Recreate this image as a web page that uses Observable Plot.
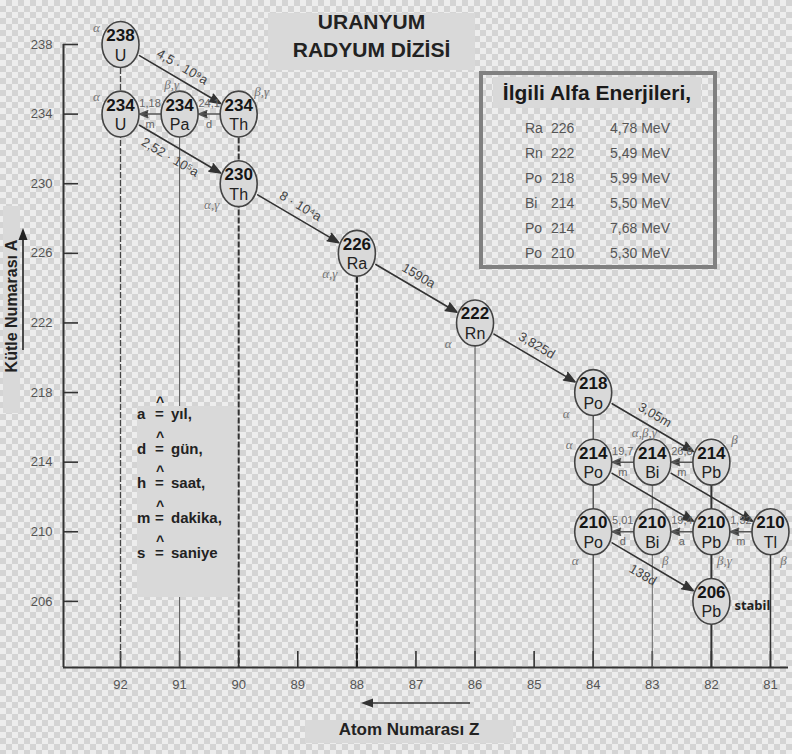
<!DOCTYPE html>
<html>
<head>
<meta charset="utf-8">
<script src="https://cdn.jsdelivr.net/npm/d3@7"></script>
<script src="https://cdn.jsdelivr.net/npm/@observablehq/plot@0.6"></script>
<style>
  body { margin: 0; }
  #wrap {
    position: relative; width: 792px; height: 754px; overflow: hidden;
    background-color: #ededed;
    background-image:
      linear-gradient(45deg, #d4d4d4 25%, transparent 25%, transparent 75%, #d4d4d4 75%),
      linear-gradient(45deg, #d4d4d4 25%, transparent 25%, transparent 75%, #d4d4d4 75%);
    background-size: 12px 12px;
    background-position: 0 0, 6px 6px;
    font-family: "Liberation Sans", Arial, sans-serif;
  }
  #wrap > svg { position: absolute; left: 0; top: 0; }
  .ov { position: absolute; }
  .gbox { position: absolute; background: #d9d9d9; }
  .title { position: absolute; left: 268px; top: 8px; width: 207px; text-align: center;
           font-weight: bold; font-size: 21px; line-height: 27.5px; color: #222; }
  .abox { position: absolute; left: 479px; top: 71px; width: 238px; height: 198px;
          border: 4px solid #808080; box-sizing: border-box; }
  .ahead { position: absolute; left: 493px; top: 77px; width: 208px; height: 31px; background: #d9d9d9;
           font-weight: bold; font-size: 21px; line-height: 31px; text-align: center; color: #1a1a1a; }
  .arow { position: absolute; font-size: 14px; color: #555; line-height: 16px; white-space: nowrap; }
  .u { position: absolute; left: 137px; font-weight: bold; font-size: 15px; line-height: 18px; color: #222; white-space: nowrap; }
  .u .eq { position: absolute; left: 18px; }
  .u .eq::before { content: "^"; position: absolute; left: 1px; top: -12px; font-size: 14px; }
  .u .val { position: absolute; left: 34px; }
  .ylab { position: absolute; left: 11.5px; top: 306px; transform: translate(-50%, -50%) rotate(-90deg);
          font-weight: bold; font-size: 16px; color: #222; white-space: nowrap; }
  .xlab { position: absolute; left: 305px; top: 720px; width: 208px; height: 23px; background: #d9d9d9;
          text-align: center; font-weight: bold; font-size: 17px; line-height: 20px; color: #222; }
</style>
</head>
<body>
<div id="wrap"></div>
<script>
// ---------------- data ----------------
const isotopes      = ["238U","234Th","234Pa","234U","230Th","226Ra","222Rn","218Po","214Pb","214Bi","214Po","210Tl","210Pb","210Bi","210Po","206Pb"];
const massNumbers   = [238, 234, 234, 234, 230, 226, 222, 218, 214, 214, 214, 210, 210, 210, 210, 206];
const symbols       = ["U","Th","Pa","U","Th","Ra","Rn","Po","Pb","Bi","Po","Tl","Pb","Bi","Po","Pb"];
const atomicNumbers = [92, 90, 91, 92, 90, 88, 86, 84, 82, 83, 84, 81, 82, 83, 84, 82];

const decayFrom      = ["238U","234Th","234Pa","234U","230Th","226Ra","222Rn","218Po","214Pb","214Bi","214Po","214Bi","210Tl","210Pb","210Bi","210Po"];
const decayTo        = ["234Th","234Pa","234U","230Th","226Ra","222Rn","218Po","214Pb","214Bi","214Po","210Pb","210Tl","210Pb","210Bi","210Po","206Pb"];
const halfLifeValue  = ["4,5 · 10⁹","24,1","1,18","2,52 · 10⁵","8 · 10⁴","1590","3,825","3,05","26,8","19,7","","","1,32","19,4","5,01","138"];
const halfLifeUnit   = ["a","d","m","a","a","a","d","m","m","m","","","m","a","d","d"];

const modeIsotopes = ["238U","234U","234Pa","234Th","230Th","226Ra","222Rn","218Po","214Po","214Bi","214Pb","210Po","210Bi","210Pb","210Tl"];
const modeTexts    = ["α","α","β,γ","β,γ","α,γ","α,γ","α","α","α","α,β,γ","β","α","β","β,γ","β"];

const stableIsotope = "206Pb";
const stableLabel = "stabil";

const xTicks = [92, 91, 90, 89, 88, 87, 86, 85, 84, 83, 82, 81];
const yTicks = [206, 210, 214, 218, 222, 226, 230, 234, 238];

const alphaElements = ["Ra","Rn","Po","Bi","Po","Po"];
const alphaMass     = [226, 222, 218, 214, 214, 210];
const alphaEnergy   = [4.78, 5.49, 5.99, 5.50, 7.68, 5.30];

const unitKeys  = ["a","d","h","m","s"];
const unitNames = ["yıl,","gün,","saat,","dakika,","saniye"];

const titleLines = ["URANYUM", "RADYUM DİZİSİ"];
const alphaTitle = "İlgili Alfa Enerjileri,";
const xLabel = "Atom Numarası Z";
const yLabel = "Kütle Numarası A";

// ---------------- layout / style config ----------------
const W = 792, H = 754;
const mL = 63, mR = 4, mT = 44, mB = 87;
const xDomain = [92.965, 80.695];
const yDomain = [202.2, 238];
const pxPerZ = (W - mL - mR) / (xDomain[0] - xDomain[1]);
const pxPerA = (H - mT - mB) / (yDomain[1] - yDomain[0]);
const angle = Math.atan2(4 * pxPerA, 2 * pxPerZ); // radians
const angleDeg = angle * 180 / Math.PI;

const modePlacement = {"238U":"nw","234U":"nw","234Pa":"n","234Th":"ne","230Th":"sw","226Ra":"sw","222Rn":"sw","218Po":"sw",
  "214Po":"nw","214Bi":"n","214Pb":"ne","210Po":"sl","210Bi":"sr","210Pb":"sr","210Tl":"sr"};
const placementOffset = {nw:[-24,-17], ne:[23,-22], n:[-8,-29], sw:[-27,21], sl:[-18,29], sr:[13,29]};
const labelsBelow = new Set(["234U>230Th","210Po>206Pb"]);

const verticalStyle = {
  92: {stroke:"#444", strokeWidth:1.3, dash:"6,2"},
  91: {stroke:"#555", strokeWidth:1, dash:null},
  90: {stroke:"#333", strokeWidth:2, dash:"6,2"},
  88: {stroke:"#222", strokeWidth:2.2, dash:"6,2"},
  86: {stroke:"#555", strokeWidth:1, dash:null},
  84: {stroke:"#444", strokeWidth:1.3, dash:null},
  83: {stroke:"#666", strokeWidth:1, dash:null},
  82: {stroke:"#333", strokeWidth:2, dash:null},
  81: {stroke:"#333", strokeWidth:1.5, dash:null}
};

// ---------------- derived tables ----------------
const nodes = isotopes.map((id, i) => ({id, A: massNumbers[i], sym: symbols[i], Z: atomicNumbers[i]}));
const byId = new Map(nodes.map(d => [d.id, d]));
const decays = decayFrom.map((f, i) => ({key: f + ">" + decayTo[i], from: byId.get(f), to: byId.get(decayTo[i]),
  value: halfLifeValue[i], unit: halfLifeUnit[i]}));
const horiz = decays.filter(d => d.from.A === d.to.A);
const diag = decays.filter(d => d.from.A !== d.to.A);
const diagLabeled = diag.filter(d => d.value !== "");
const diagAbove = diagLabeled.filter(d => !labelsBelow.has(d.key));
const diagBelow = diagLabeled.filter(d => labelsBelow.has(d.key));
const verticals = d3.rollups(nodes, v => d3.max(v, d => d.A), d => d.Z).map(([Z, top]) => ({Z, top}));
const modes = modeIsotopes.map((id, i) => ({node: byId.get(id), text: modeTexts[i], place: modePlacement[id]}));

// ellipse symbol
const ellipse = {
  draw(ctx, size) {
    const r = Math.sqrt(size / Math.PI), rx = r, ry = r * 1.24, k = 0.5523;
    ctx.moveTo(rx, 0);
    ctx.bezierCurveTo(rx, ry * k, rx * k, ry, 0, ry);
    ctx.bezierCurveTo(-rx * k, ry, -rx, ry * k, -rx, 0);
    ctx.bezierCurveTo(-rx, -ry * k, -rx * k, -ry, 0, -ry);
    ctx.bezierCurveTo(rx * k, -ry, rx, -ry * k, rx, 0);
    ctx.closePath();
  }
};

const sans = "'Liberation Sans', Arial, sans-serif";
const mid = d => ({x: (d.from.Z + d.to.Z) / 2, y: (d.from.A + d.to.A) / 2});

const vMarks = Array.from(d3.group(verticals, d => { const s = verticalStyle[d.Z]; return s.dash + "|" + s.strokeWidth + "|" + s.stroke; }).values())
  .map(rows => {
    const s = verticalStyle[rows[0].Z];
    return Plot.ruleX(rows, {x: "Z", y1: "top", y2: yDomain[0], stroke: s.stroke, strokeWidth: s.strokeWidth, strokeDasharray: s.dash});
  });

const perpA = 12, along = -4;
const aboveDx = Math.sin(angle) * perpA + Math.cos(angle) * along;
const aboveDy = -Math.cos(angle) * perpA + Math.sin(angle) * along;
const belowDx = -Math.sin(angle) * perpA + Math.cos(angle) * along;
const belowDy = Math.cos(angle) * perpA + Math.sin(angle) * along;

const chart = Plot.plot({
  width: W, height: H,
  marginLeft: mL, marginRight: mR, marginTop: mT, marginBottom: mB,
  style: {background: "transparent", overflow: "visible"},
  x: {domain: xDomain, label: null},
  y: {domain: yDomain, label: null},
  marks: [
    // axis lines
    Plot.ruleX([xDomain[0]], {stroke: "#333", strokeWidth: 2}),
    Plot.ruleY([yDomain[0]], {stroke: "#333", strokeWidth: 2}),
    // inward ticks
    Plot.axisY({ticks: yTicks, tickSize: 15, dx: 15, tickFormat: () => "", stroke: "#333", strokeWidth: 1.6, label: null}),
    Plot.axisY({ticks: yTicks, tickSize: 0, tickPadding: 11, fontSize: 13, fill: "#555", label: null, fontFamily: sans}),
    Plot.axisX({ticks: xTicks, tickSize: 16, dy: -16, tickFormat: () => "", stroke: "#333", strokeWidth: 1.6, label: null}),
    Plot.axisX({ticks: xTicks, tickSize: 0, tickPadding: 12, fontSize: 13, fill: "#555", label: null, fontFamily: sans}),
    // vertical lines
    ...vMarks,
    // decay arrows
    Plot.arrow(diag, {x1: d => d.from.Z, y1: d => d.from.A, x2: d => d.to.Z, y2: d => d.to.A,
      insetStart: 22, insetEnd: 21, headLength: 11, headAngle: 42, stroke: "#333", fill: "#333", strokeWidth: 1.6}),
    Plot.arrow(horiz, {x1: d => d.from.Z, y1: d => d.from.A, x2: d => d.to.Z, y2: d => d.to.A,
      insetStart: 18, insetEnd: 19, headLength: 9, headAngle: 45, stroke: "#555", fill: "#333", strokeWidth: 1.5}),
    // nodes
    Plot.dot(nodes, {x: "Z", y: "A", r: 18.5, symbol: ellipse, fill: "#d9d9d9", stroke: "#444", strokeWidth: 1.6}),
    Plot.text(nodes, {x: "Z", y: "A", text: d => String(d.A), dy: -9, fontSize: 17, fontWeight: "bold", fontFamily: sans, fill: "#151515"}),
    Plot.text(nodes, {x: "Z", y: "A", text: "sym", dy: 11, fontSize: 16, fontFamily: sans, fill: "#222"}),
    // half-life labels
    Plot.text(diagAbove, {x: d => mid(d).x, y: d => mid(d).y, text: d => d.value + d.unit, rotate: angleDeg,
      dx: aboveDx, dy: aboveDy, fontSize: 13, fontFamily: sans, fill: "#444"}),
    Plot.text(diagBelow, {x: d => mid(d).x, y: d => mid(d).y, text: d => d.value + d.unit, rotate: angleDeg,
      dx: belowDx, dy: belowDy, fontSize: 13, fontFamily: sans, fill: "#444"}),
    Plot.text(horiz, {x: d => mid(d).x, y: d => mid(d).y, text: "value", dy: -11, fontSize: 11, fontFamily: sans, fill: "#666"}),
    Plot.text(horiz, {x: d => mid(d).x, y: d => mid(d).y, text: "unit", dy: 10, fontSize: 11, fontFamily: sans, fill: "#666"}),
    // decay-mode labels
    ...Object.keys(placementOffset).map(p => Plot.text(modes.filter(m => m.place === p), {
      x: d => d.node.Z, y: d => d.node.A, text: "text", dx: placementOffset[p][0], dy: placementOffset[p][1],
      fontSize: 13, fontStyle: "italic", fontFamily: "'Liberation Serif', serif", fill: "#777"})),
    // stable label
    Plot.text([byId.get(stableIsotope)], {x: "Z", y: "A", text: () => stableLabel, textAnchor: "start", dx: 23, dy: 4,
      fontSize: 13, fontWeight: "bold", fill: "#222"})
  ]
});

const wrap = document.getElementById("wrap");
wrap.appendChild(chart);

// ---------------- overlays ----------------
function add(html) { wrap.insertAdjacentHTML("beforeend", html); }
add(`<div class="gbox" style="left:268px;top:13px;width:207px;height:57px"></div>`);
add(`<div class="title">${titleLines.join("<br>")}</div>`);
add(`<div class="abox"></div>`);
add(`<div class="ahead">${alphaTitle}</div>`);
alphaElements.forEach((el, i) => {
  const top = 120 + i * 25;
  add(`<div class="arow" style="left:525px;top:${top}px">${el}</div>`);
  add(`<div class="arow" style="left:551px;top:${top}px">${alphaMass[i]}</div>`);
  add(`<div class="arow" style="left:560px;width:110px;text-align:right;top:${top}px">${alphaEnergy[i].toFixed(2).replace(".", ",")} MeV</div>`);
});
// units box
add(`<div class="gbox" style="left:137px;top:406px;width:100px;height:191px"></div>`);
unitKeys.forEach((k, i) => {
  const top = 405 + i * 34.7;
  add(`<div class="u" style="top:${top}px"><span>${k}</span><span class="eq">=</span><span class="val">${unitNames[i]}</span></div>`);
});
// y label
add(`<div class="gbox" style="left:3px;top:206px;width:17px;height:207px"></div>`);
add(`<div class="ylab">${yLabel}</div>`);
add(`<svg class="ov" style="left:16px;top:225px" width="14" height="130"><path d="M7,125V10" stroke="#222" stroke-width="1.6"/><path d="M2.5,15L7,3L11.5,15Z" fill="#222"/></svg>`);
// x label
add(`<div class="xlab">${xLabel}</div>`);
add(`<svg class="ov" style="left:358px;top:697px" width="116" height="12"><path d="M112,6H10" stroke="#333" stroke-width="1.6"/><path d="M15,1.5L3,6L15,10.5Z" fill="#333"/></svg>`);
</script>
</body>
</html>
